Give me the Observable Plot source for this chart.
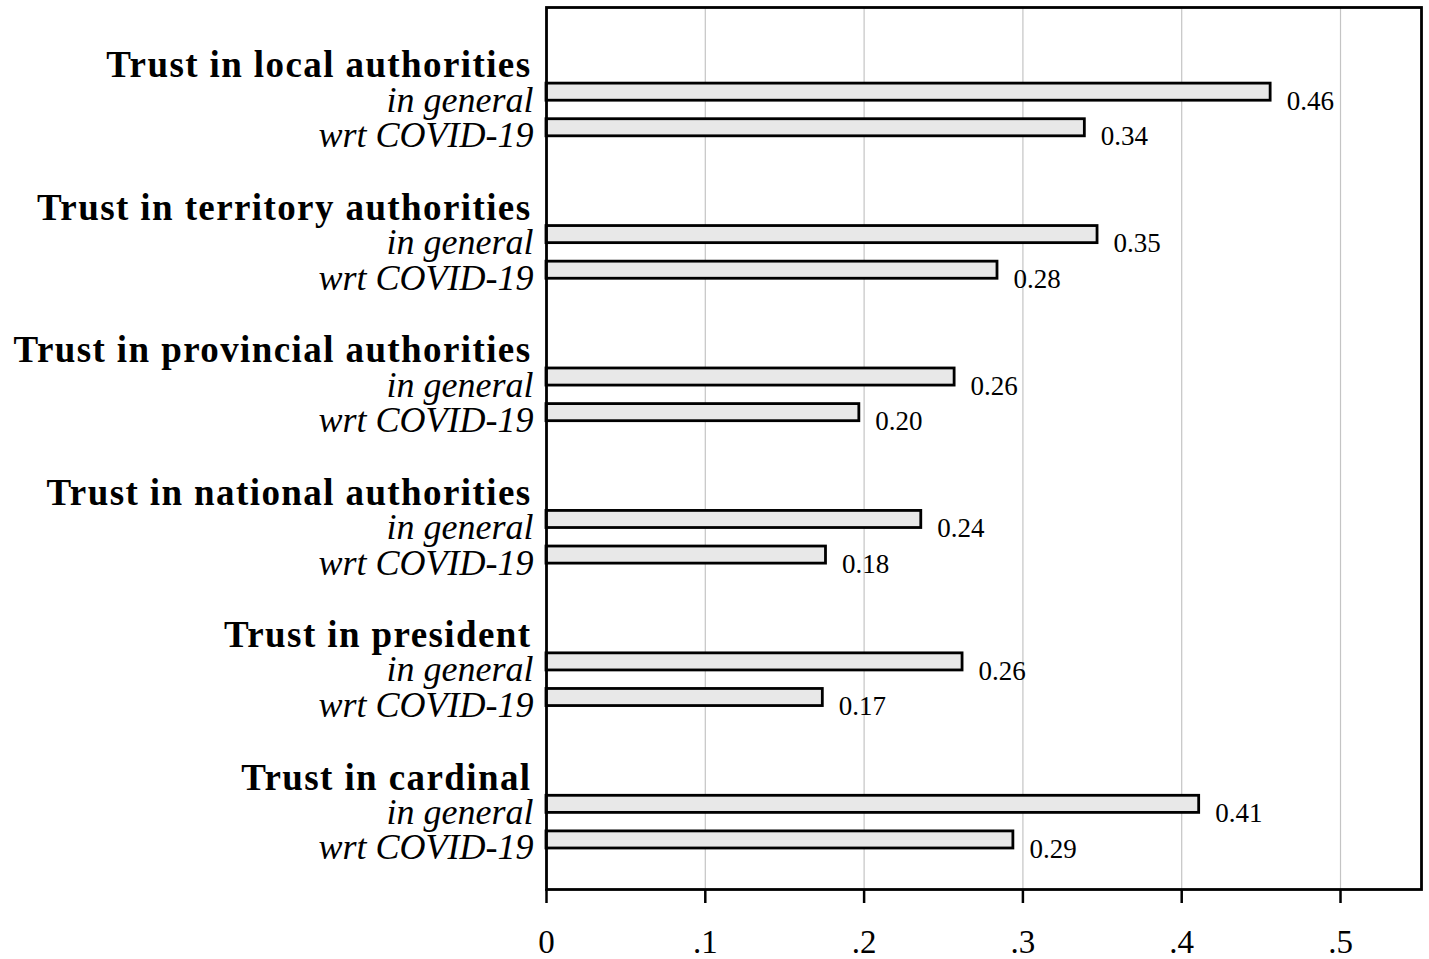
<!DOCTYPE html>
<html>
<head>
<meta charset="utf-8">
<script src="https://cdn.jsdelivr.net/npm/d3@7"></script>
<script src="https://cdn.jsdelivr.net/npm/@observablehq/plot@0.6"></script>
<style>
  html, body { margin: 0; padding: 0; background: #ffffff; }
  #chart { width: 1429px; height: 959px; }
</style>
</head>
<body>
<div id="chart"></div>
<script>
// ---- data ----
const groups = [
  "Trust in local authorities",
  "Trust in territory authorities",
  "Trust in provincial authorities",
  "Trust in national authorities",
  "Trust in president",
  "Trust in cardinal"
];
const subLabels = ["in general", "wrt COVID-19"];
const inGeneral = [0.456, 0.347, 0.257, 0.236, 0.262, 0.411];
const wrtCovid  = [0.339, 0.284, 0.197, 0.176, 0.174, 0.294];
const xTicks = [0, 0.1, 0.2, 0.3, 0.4, 0.5];
const xTickLabels = ["0", ".1", ".2", ".3", ".4", ".5"];
const gridTicks = [0.1, 0.2, 0.3, 0.4, 0.5];

// ---- derived tables ----
const rowKeys = groups.flatMap((g, i) =>
  i < groups.length - 1 ? [`H${i}`, `G${i}`, `C${i}`, `S${i}`] : [`H${i}`, `G${i}`, `C${i}`]);
const bars = groups.flatMap((g, i) => [
  {key: `G${i}`, value: inGeneral[i]},
  {key: `C${i}`, value: wrtCovid[i]}
]);
const headers = groups.map((g, i) => ({key: `H${i}`, label: g}));
const subs = groups.flatMap((g, i) => [
  {key: `G${i}`, label: subLabels[0]},
  {key: `C${i}`, label: subLabels[1]}
]);
const fmt = d3.format(".2f");
const serif = "'Liberation Serif', 'DejaVu Serif', serif";

const chart = Plot.plot({
  width: 1429,
  height: 959,
  marginLeft: 546,
  marginRight: 8,
  marginTop: 7,
  marginBottom: 70,
  style: {fontFamily: serif, background: "#ffffff", color: "#000"},
  x: {domain: [0, 0.551], axis: null},
  y: {type: "band", domain: rowKeys, range: [29.7, 865.8], paddingInner: 0.52, paddingOuter: 0.5, round: false, axis: null},
  marks: [
    Plot.ruleX(gridTicks, {stroke: "#c4c4c4", strokeWidth: 1.2}),
    Plot.barX(bars, {x: "value", y: "key", fill: "#e8e8e8", stroke: "#000", strokeWidth: 2.8}),
    Plot.text(bars, {x: "value", y: "key", text: d => fmt(d.value), textAnchor: "start", dx: 16, dy: 9,
      fontSize: 27, fontFamily: serif, fill: "#000"}),
    Plot.text(headers, {y: "key", text: "label", frameAnchor: "left", textAnchor: "end", dx: -15, dy: 9,
      fontSize: 37, fontWeight: "bold", fontFamily: serif, fill: "#000"}),
    Plot.text(subs, {y: "key", text: "label", frameAnchor: "left", textAnchor: "end", dx: -13, dy: 8,
      fontSize: 36, fontStyle: "italic", fontFamily: serif, fill: "#000"}),
    Plot.axisX({ticks: xTicks, tickFormat: (d) => xTickLabels[xTicks.indexOf(d)], tickSize: 14, tickPadding: 26,
      strokeWidth: 2.5, fontSize: 33, fontFamily: serif, fill: "#000", stroke: "#000", label: null}),
    Plot.frame({stroke: "#000", strokeWidth: 2.8})
  ]
});
// widen the bold headers a little, like the reference's extended bold face
d3.select(chart).selectAll('g[font-weight="bold"] text').attr("letter-spacing", "1.4px");
document.getElementById("chart").appendChild(chart);
</script>
</body>
</html>
